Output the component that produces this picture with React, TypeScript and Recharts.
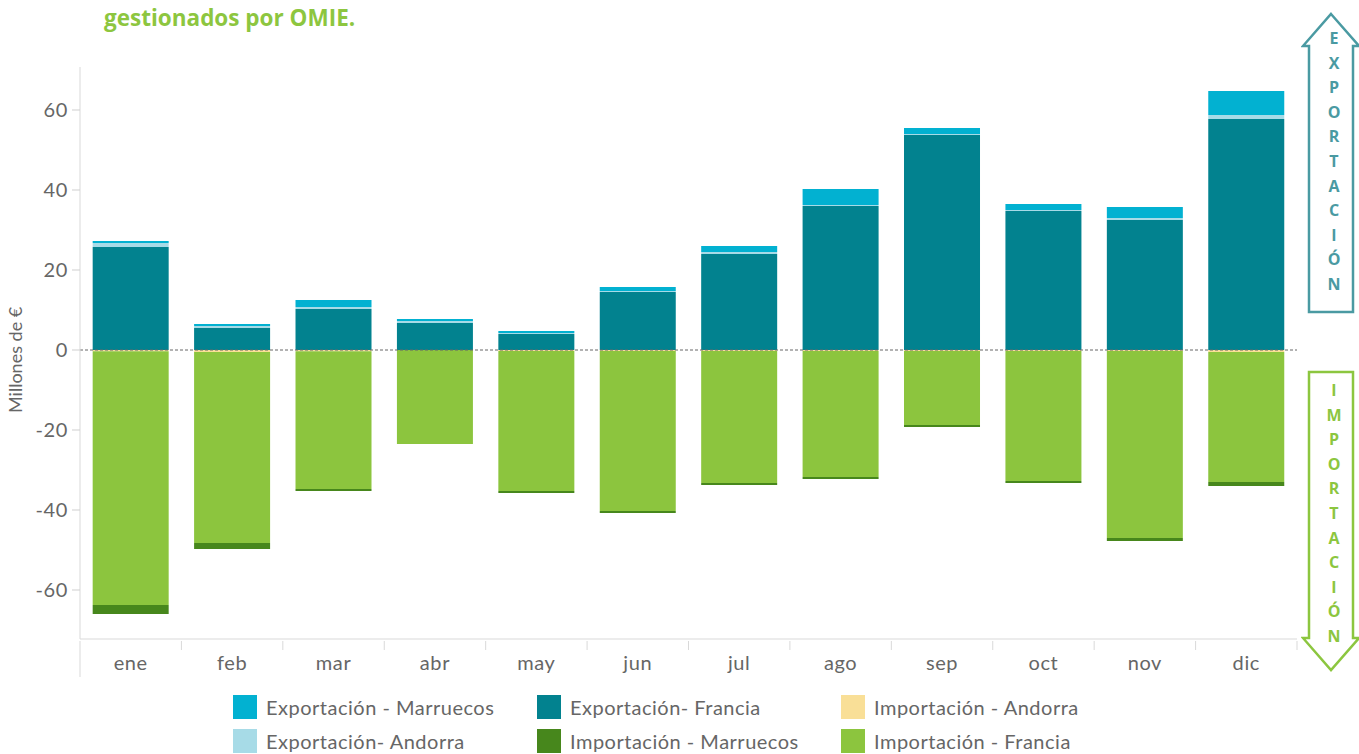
import React from "react";
import {
  BarChart, Bar, XAxis, YAxis, ReferenceLine,
} from "recharts";

const months = ["ene", "feb", "mar", "abr", "may", "jun", "jul", "ago", "sep", "oct", "nov", "dic"];

// millones de euros por mes
const expFrancia = [25.75, 5.5, 10.25, 6.75, 4.0, 14.5, 24.0, 36.0, 53.75, 34.75, 32.5, 57.75];
const expAndorra = [1.0, 0.5, 0.5, 0.5, 0.25, 0.25, 0.5, 0.25, 0.25, 0.25, 0.5, 1.0];
const expMarruecos = [0.5, 0.5, 1.75, 0.5, 0.5, 1.0, 1.5, 4.0, 1.5, 1.5, 2.75, 6.0];
const impAndorra = [-0.3, -0.5, -0.3, 0, -0.25, -0.25, -0.25, -0.25, -0.25, -0.25, -0.25, -0.5];
const impFrancia = [-63.45, -47.75, -34.45, -23.5, -35.0, -40.0, -33.0, -31.5, -18.5, -32.5, -46.75, -32.5];
const impMarruecos = [-2.25, -1.5, -0.5, 0, -0.5, -0.5, -0.5, -0.5, -0.5, -0.5, -0.75, -1.0];

const yTicks = [-60, -40, -20, 0, 20, 40, 60];

const C = {
  expMarruecos: "#02b1d1",
  expFrancia: "#02828f",
  expAndorra: "#a7dbe7",
  impAndorra: "#f9df97",
  impMarruecos: "#47871c",
  impFrancia: "#8cc53e",
};

const legendItems = [
  { label: "Exportación - Marruecos", color: C.expMarruecos },
  { label: "Exportación- Francia", color: C.expFrancia },
  { label: "Importación - Andorra", color: C.impAndorra },
  { label: "Exportación- Andorra", color: C.expAndorra },
  { label: "Importación - Marruecos", color: C.impMarruecos },
  { label: "Importación - Francia", color: C.impFrancia },
];

const data = months.map((m, i) => ({
  mes: m,
  expFrancia: expFrancia[i],
  expAndorra: expAndorra[i],
  expMarruecos: expMarruecos[i],
  impAndorra: impAndorra[i],
  impFrancia: impFrancia[i],
  impMarruecos: impMarruecos[i],
}));

const FONT = "Lato, 'Open Sans', sans-serif";
const PLOT_LEFT = 80;
const PLOT_RIGHT = 1297;
const BAND = (PLOT_RIGHT - PLOT_LEFT) / months.length;

const MonthTick = (props: any) => {
  const { x, y, payload, index } = props;
  const left = x - BAND / 2;
  return (
    <g>
      <line x1={left} x2={left} y1={y} y2={index === 0 ? y + 36 : y + 9} stroke="#d9d9d9" />
      {index === months.length - 1 && (
        <line x1={left + BAND} x2={left + BAND} y1={y} y2={y + 9} stroke="#d9d9d9" />
      )}
      <text x={x} y={y + 29} textAnchor="middle" fontSize={20} letterSpacing={0.6} fill="#666" fontFamily={FONT}>
        {payload.value}
      </text>
    </g>
  );
};

const Arrow = ({ up, color }: { up: boolean; color: string }) => {
  const word = up ? "EXPORTACIÓN" : "IMPORTACIÓN";
  const top = up ? 12 : 370;
  const height = 302;
  const head = 34;
  const w = 60;
  const sl = 8, sr = 52;
  const pts = up
    ? `${w / 2},2 ${w - 2},${head} ${sr},${head} ${sr},${height - 2} ${sl},${height - 2} ${sl},${head} 2,${head}`
    : `${sl},2 ${sr},2 ${sr},${height - head} ${w - 2},${height - head} ${w / 2},${height - 2} 2,${height - head} ${sl},${height - head}`;
  const first = up ? 26 : 20;
  const step = 24.6;
  return (
    <svg style={{ position: "absolute", left: 1301, top }} width={w} height={height}>
      <polygon points={pts} fill="#fff" stroke={color} strokeWidth={2.5} strokeLinejoin="miter" />
      {word.split("").map((ch, i) => (
        <text key={i} x={w / 2 + 3} y={first + 6 + i * step} textAnchor="middle" fontSize={16}
          fontWeight={700} fill={color} fontFamily="'Open Sans', sans-serif">
          {ch}
        </text>
      ))}
    </svg>
  );
};

export default function App() {
  return (
    <div style={{ position: "absolute", left: 0, top: 0, width: 1359, height: 754, background: "#fff", overflow: "hidden" }}>
      <div style={{ position: "absolute", left: 104, top: 2, fontFamily: "'Open Sans', sans-serif", fontWeight: 700, fontSize: 22.5, color: "#8dc63f" }}>
        gestionados por OMIE.
      </div>

      <div style={{ position: "absolute", left: 0, top: 0 }}>
        <BarChart
          width={1300}
          height={680}
          data={data}
          stackOffset="sign"
          barCategoryGap="12.5%"
          margin={{ top: 67, right: 3, bottom: 5, left: 0 }}
        >
          <XAxis
            dataKey="mes"
            height={36}
            tickLine={false}
            tickSize={0}
            axisLine={{ stroke: "#d9d9d9" }}
            tick={<MonthTick />}
            interval={0}
          />
          <XAxis xAxisId="top" orientation="top" dataKey="mes" height={0} tick={false} tickLine={false} axisLine={{ stroke: "#dcdcdc" }} />
          <YAxis
            domain={[-72.25, 70.75]}
            ticks={yTicks}
            width={80}
            tickSize={8}
            tickMargin={4}
            tickLine={{ stroke: "#cfcfcf" }}
            axisLine={{ stroke: "#d9d9d9" }}
            tick={{ fontSize: 20, fill: "#666", fontFamily: FONT, letterSpacing: 0.6 }}
            allowDataOverflow
            label={{ value: "Millones de €", angle: -90, position: "insideLeft", dx: 11, dy: 60, fontSize: 18, fill: "#666", fontFamily: FONT }}
          />
          <YAxis yAxisId="right" orientation="right" width={0} tick={false} tickLine={false} axisLine={{ stroke: "#dcdcdc" }} />
          <ReferenceLine y={0} stroke="#666" strokeDasharray="3 2" />
          <Bar dataKey="expFrancia" stackId="s" fill={C.expFrancia} isAnimationActive={false} />
          <Bar dataKey="expAndorra" stackId="s" fill={C.expAndorra} isAnimationActive={false} />
          <Bar dataKey="expMarruecos" stackId="s" fill={C.expMarruecos} isAnimationActive={false} />
          <Bar dataKey="impAndorra" stackId="s" fill={C.impAndorra} isAnimationActive={false} />
          <Bar dataKey="impFrancia" stackId="s" fill={C.impFrancia} isAnimationActive={false} />
          <Bar dataKey="impMarruecos" stackId="s" fill={C.impMarruecos} isAnimationActive={false} />
        </BarChart>
      </div>

      <Arrow up color="#4a9aa2" />
      <Arrow up={false} color="#8cc63f" />

      <div style={{ position: "absolute", left: 233, top: 695, display: "grid", gridTemplateColumns: "304px 304px 304px", rowGap: 10, fontFamily: FONT, fontSize: 20, letterSpacing: 0.5, color: "#666" }}>
        {legendItems.map((it) => (
          <div key={it.label} style={{ display: "flex", alignItems: "center", height: 24 }}>
            <span style={{ width: 24, height: 24, background: it.color, marginRight: 9, flex: "none" }} />
            <span>{it.label}</span>
          </div>
        ))}
      </div>
    </div>
  );
}
